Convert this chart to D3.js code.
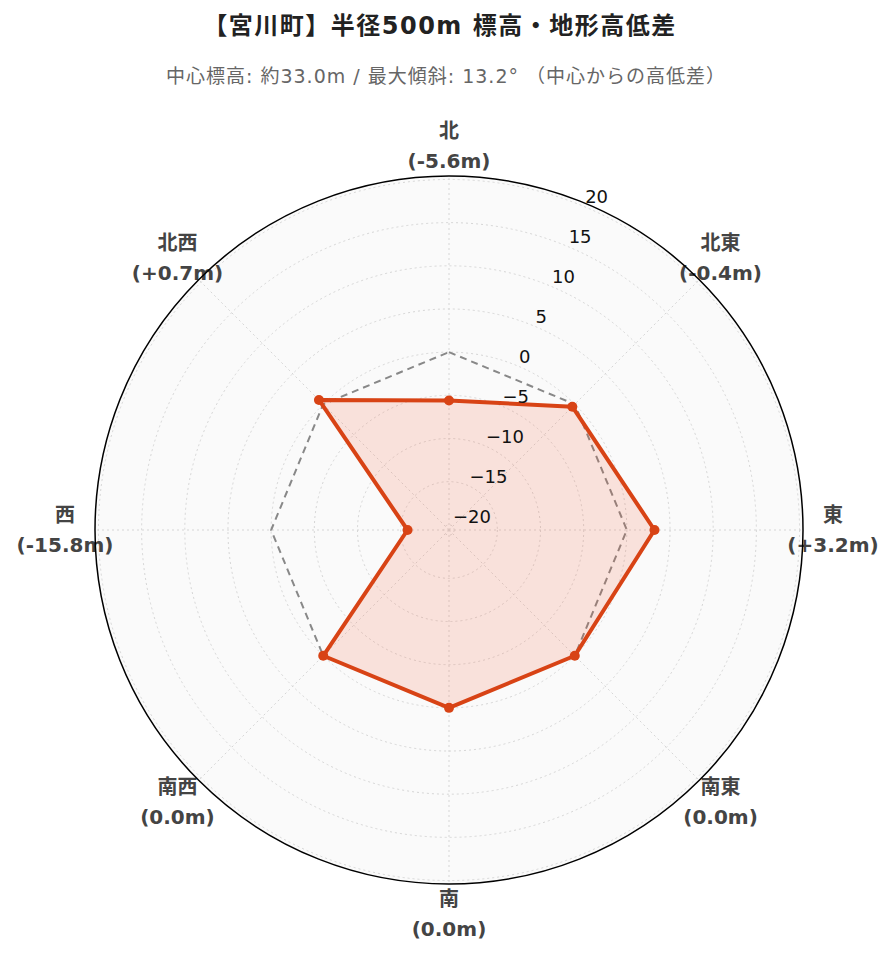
<!DOCTYPE html>
<html><head><meta charset="utf-8">
<script src="https://cdn.jsdelivr.net/npm/d3@7"></script>
<style>body{margin:0;background:#fff}</style>
</head><body><svg id="c" width="896" height="962"></svg>
<script>
const directions = ["北","北東","東","南東","南","南西","西","北西"];
const diffs = [-5.6, -0.4, 3.2, 0.0, 0.0, 0.0, -15.8, 0.7];
const refValues = [0, 0, 0, 0, 0, 0, 0, 0];
const radialTicks = [-20, -15, -10, -5, 0, 5, 10, 15, 20];
const radialDomain = [-20.6, 20.4];
const titleText = "【宮川町】半径500m 標高・地形高低差";
const subtitleText = "中心標高: 約33.0m / 最大傾斜: 13.2° （中心からの高低差）";

const FONT = "'DejaVu Sans', Verdana, 'Noto Sans CJK JP', sans-serif";
const cx = 449, cy = 530, R = 354;
const svg = d3.select("#c");

svg.append("text").attr("x", 440).attr("y", 34).attr("text-anchor", "middle")
  .attr("font-family", FONT).attr("font-weight", "bold").attr("font-size", 24)
  .attr("letter-spacing", 1.5).attr("fill", "#222")
  .text(titleText);
svg.append("text").attr("x", 446).attr("y", 83).attr("text-anchor", "middle")
  .attr("font-family", FONT).attr("font-size", 19).attr("letter-spacing", 1).attr("fill", "#666")
  .text(subtitleText);

const ang = d3.scaleLinear().domain([0, directions.length]).range([0, 2 * Math.PI]);
const rad = d3.scaleLinear().domain(radialDomain).range([0, R]);

const g = svg.append("g").attr("transform", `translate(${cx},${cy})`);

g.append("circle").attr("r", R).attr("fill", "#fafafa");

g.selectAll(".gc").data(radialTicks).join("circle")
  .attr("r", d => rad(d)).attr("fill", "none")
  .attr("stroke", "#d6d6d6").attr("stroke-width", 1).attr("stroke-dasharray", "2,3");

g.selectAll(".sp").data(directions).join("line")
  .attr("x1", 0).attr("y1", 0)
  .attr("x2", (d, i) => d3.pointRadial(ang(i), R)[0])
  .attr("y2", (d, i) => d3.pointRadial(ang(i), R)[1])
  .attr("stroke", "#d6d6d6").attr("stroke-width", 1).attr("stroke-dasharray", "2,3");

const line = d3.lineRadial().angle((d, i) => ang(i)).radius(d => rad(d)).curve(d3.curveLinearClosed);

g.append("path").attr("d", line(refValues)).attr("fill", "none")
  .attr("stroke", "#888").attr("stroke-width", 2).attr("stroke-dasharray", "7,5");

g.append("path").attr("d", line(diffs)).attr("fill", "rgba(250,90,50,0.15)")
  .attr("stroke", "#d84315").attr("stroke-width", 4).attr("stroke-linejoin", "round");

g.selectAll(".mk").data(diffs).join("circle")
  .attr("cx", (d, i) => d3.pointRadial(ang(i), rad(d))[0])
  .attr("cy", (d, i) => d3.pointRadial(ang(i), rad(d))[1])
  .attr("r", 5).attr("fill", "#d84315");

const axAng = Math.PI / 8;
const fmt = d3.format("d");
g.selectAll(".tk").data(radialTicks).join("text")
  .attr("x", d => d3.pointRadial(axAng, rad(d))[0] + 2)
  .attr("y", d => d3.pointRadial(axAng, rad(d))[1] - 9)
  .attr("dy", "0.35em")
  .attr("font-family", FONT).attr("font-size", 18).attr("fill", "#111")
  .text(d => fmt(d));

const lab = g.selectAll(".al").data(directions).join("text")
  .attr("font-family", FONT).attr("font-weight", "bold").attr("font-size", 20).attr("fill", "#444")
  .attr("text-anchor", "middle")
  .attr("transform", (d, i) => { const p = d3.pointRadial(ang(i), 384); return `translate(${p[0]},${p[1]})`; });
lab.append("tspan").attr("x", 0).attr("y", -15).attr("dy", "0.35em").text(d => d);
lab.append("tspan").attr("x", 0).attr("y", 15).attr("dy", "0.35em")
  .text((d, i) => { const v = diffs[i]; const s = v > 0 ? "+" : v < 0 ? "-" : ""; return `(${s}${Math.abs(v).toFixed(1)}m)`; });

g.append("circle").attr("r", R).attr("fill", "none").attr("stroke", "#000").attr("stroke-width", 1.5);
</script></body></html>
